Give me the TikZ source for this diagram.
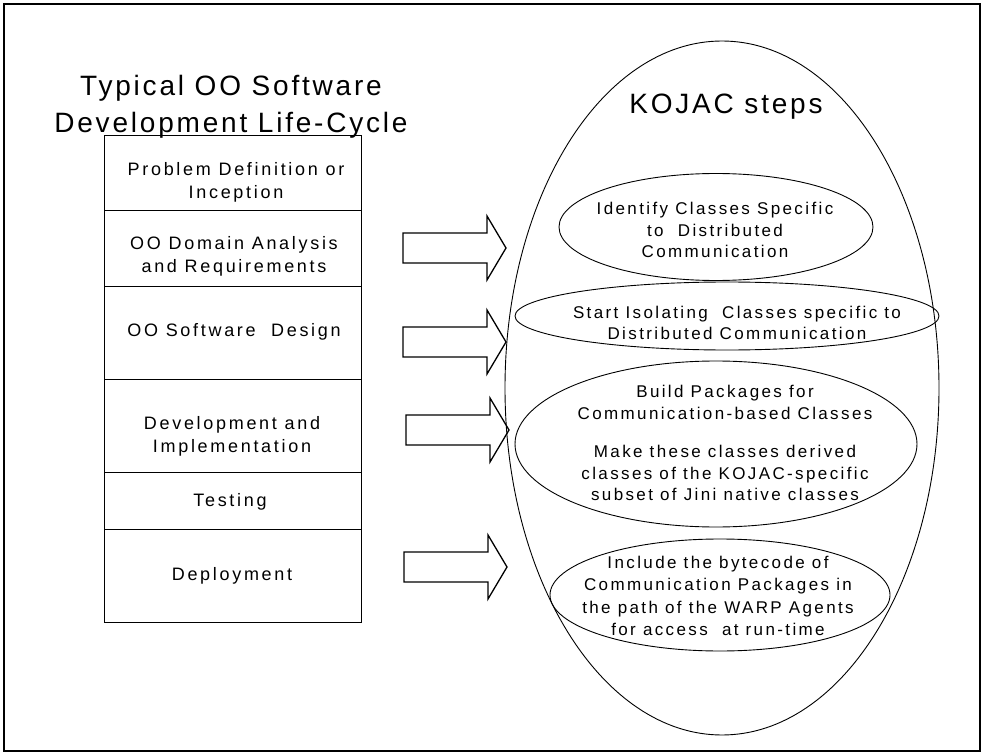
\documentclass[tikz,border=0pt]{standalone}
\usepackage{fontspec}
\setmainfont{Liberation Sans}
\newfontfamily\titlefont[LetterSpace=10]{Liberation Sans}
\newfontfamily\phasefont[LetterSpace=15]{Liberation Sans}
\newfontfamily\stepfont[LetterSpace=14]{Liberation Sans}
\usetikzlibrary{shapes.geometric}

\begin{document}
\begin{tikzpicture}[x=1pt,y=-1pt,
  phasebox/.style={draw, line width=1.3pt, minimum width=257pt, inner sep=0pt,
    anchor=north west},
  phasetext/.style={align=center, inner sep=0pt,
    font=\phasefont\fontsize{18}{23}\selectfont},
  stepoval/.style={draw, ellipse, line width=0.9pt, inner sep=0pt},
  steptext/.style={align=center, inner sep=0pt,
    font=\stepfont\fontsize{17}{21.5}\selectfont},
  headtext/.style={align=center, inner sep=0pt,
    font=\titlefont\fontsize{28}{37}\selectfont},
  blockarrow/.style={draw, line width=1.3pt, line join=miter},
  pics/fatarrow/.style={code={
    \draw[blockarrow] (0,-15) -- (84,-15) -- (84,-32) -- (103,0)
      -- (84,32) -- (84,15) -- (0,15) -- cycle;}}
]
\useasboundingbox (0,0) rectangle (983,754);

% outer frame
\draw[line width=1.3pt] (4,4) rectangle (980,751);

% life-cycle column
\node[headtext] (title) at (231,107) {Typical OO Software\\Development Life-Cycle};

\node[phasebox, minimum height=75pt] (p1) at (104,135) {};
\node[phasebox, minimum height=76pt] (p2) at (104,210) {};
\node[phasebox, minimum height=93pt] (p3) at (104,286) {};
\node[phasebox, minimum height=93pt] (p4) at (104,379) {};
\node[phasebox, minimum height=57pt] (p5) at (104,472) {};
\node[phasebox, minimum height=93pt] (p6) at (104,529) {};

\node[phasetext] (t1) at (236,182) {Problem Definition or\\Inception};
\node[phasetext] (t2) at (234,256) {OO Domain Analysis\\and Requirements};
\node[phasetext] (t3) at (234,332) {OO Software~ Design};
\node[phasetext] (t4) at (232,436) {Development and\\Implementation};
\node[phasetext] (t5) at (230,502) {Testing};
\node[phasetext] (t6) at (232,576) {Deployment};

% arrows between the column and the steps
\pic at (403,248) {fatarrow};
\pic at (403,342) {fatarrow};
\pic at (406,430) {fatarrow};
\pic at (404,567) {fatarrow};

% KOJAC steps
\node[stepoval, minimum width=434pt, minimum height=694pt] (kojac) at (722,388) {};
\node[headtext] (ktitle) at (726,107) {KOJAC steps};

\node[stepoval, minimum width=314pt, minimum height=107pt] (s1) at (716,227) {};
\node[stepoval, minimum width=424pt, minimum height=68pt] (s2) at (727,316) {};
\node[stepoval, minimum width=402pt, minimum height=166pt] (s3) at (716,444) {};
\node[stepoval, minimum width=340pt, minimum height=112pt] (s4) at (720,595) {};

\node[steptext] (st1) at (715,230) {Identify Classes Specific\\to~ Distributed\\Communication};
\node[steptext] (st2) at (737,323) {Start Isolating~ Classes specific to\\Distributed Communication};
\node[steptext] (st3) at (725,443) {Build Packages for\\Communication-based Classes\\[17pt]Make these classes derived\\classes of the KOJAC-specific\\subset of Jini native classes};
\node[steptext, font=\stepfont\fontsize{17}{22.5}\selectfont] (st4) at (718,596)
  {Include the bytecode of\\Communication Packages in\\the path of the WARP Agents\\for access~ at run-time};
\end{tikzpicture}
\end{document}
